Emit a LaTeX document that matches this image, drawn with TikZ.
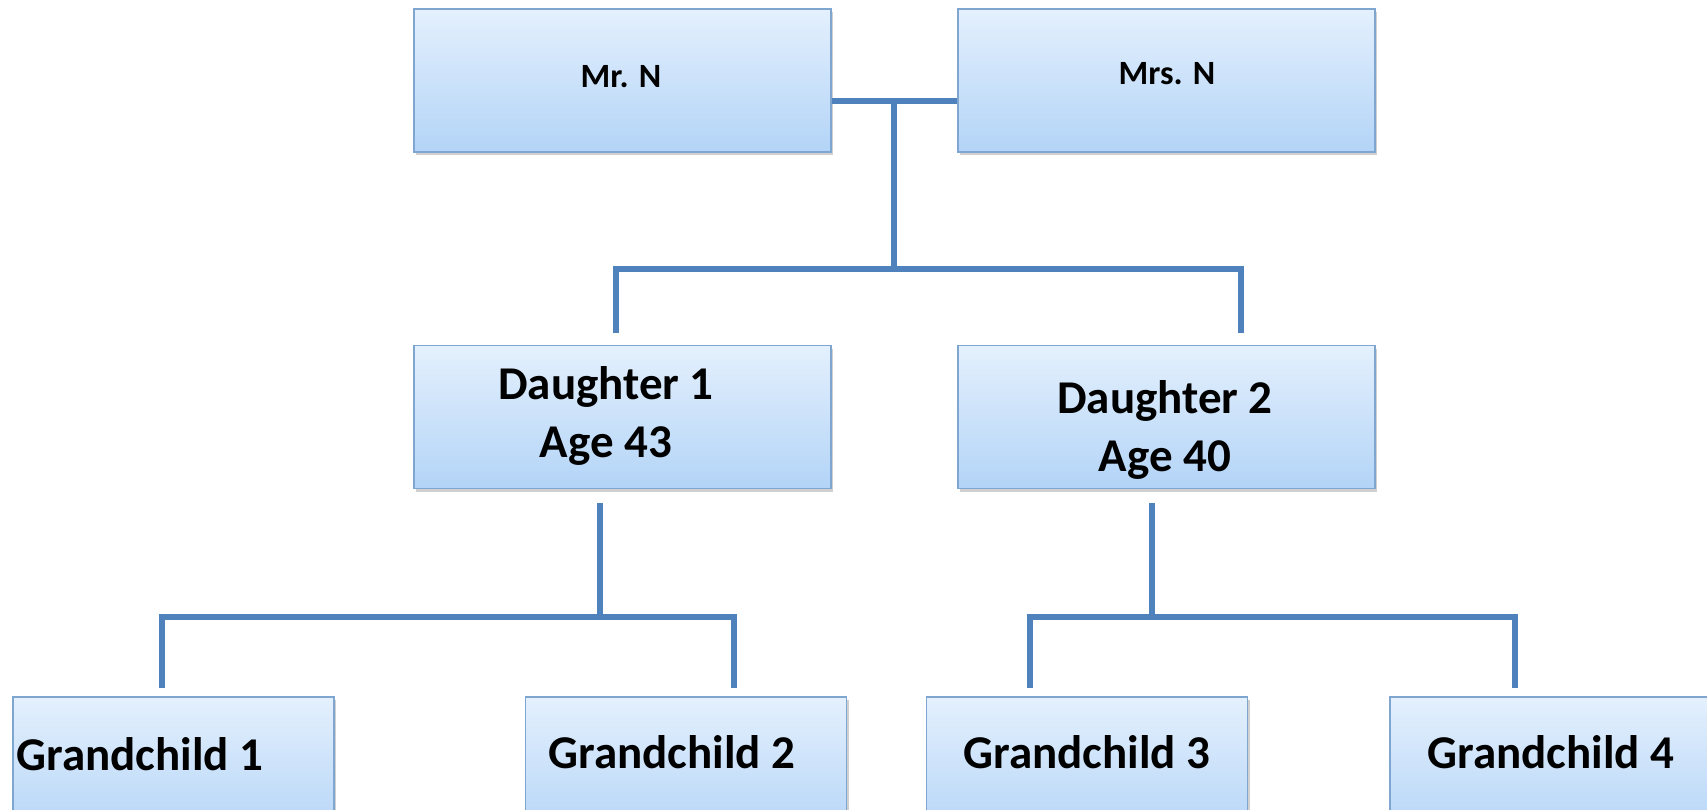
\documentclass[tikz,border=0pt]{standalone}
\usepackage{fontspec}
\setmainfont{Carlito}
\usetikzlibrary{shadows}
\definecolor{connc}{HTML}{4F81BD}
\definecolor{boxtop}{HTML}{E4F0FD}
\definecolor{boxbot}{HTML}{B3D4F7}
\definecolor{boxline}{HTML}{7FA6D1}
\begin{document}
\begin{tikzpicture}[x=1pt,y=-1pt,
  fambox/.style={draw=boxline, line width=1.5pt, top color=boxtop, bottom color=boxbot,
    drop shadow={shadow xshift=2pt, shadow yshift=-3pt, opacity=0.3, fill=black!60},
    inner sep=0pt, minimum height=143pt},
  bigw/.style={minimum width=417pt},
  smallw/.style={minimum width=321pt},
  biglbl/.style={font=\bfseries\fontsize{47}{58}\selectfont, align=center, inner sep=0pt},
  smalllbl/.style={font=\bfseries\fontsize{34}{40}\selectfont, align=center, inner sep=0pt},
  conn/.style={draw=connc, line width=6pt, line join=miter}]
\useasboundingbox (0,0) rectangle (1707,809);
\clip (0,0) rectangle (1707,809);
\fill[white] (0,0) rectangle (1707,809);
% boxes
\node[fambox,bigw] (mr) at (622.5,80.5) {};
\node[fambox,bigw] (mrs) at (1166.5,80.5) {};
\node[fambox,bigw] (d1) at (622.5,417) {};
\node[fambox,bigw] (d2) at (1166.5,417) {};
\node[fambox,smallw] (g1) at (173.5,768.5) {};
\node[fambox,smallw] (g2) at (686,768.5) {};
\node[fambox,smallw] (g3) at (1087,768.5) {};
\node[fambox,smallw] (g4) at (1550.5,768.5) {};
% labels
\node[smalllbl] (tmr) at (621,77) {Mr. N};
\node[smalllbl] (tmrs) at (1167,74) {Mrs. N};
\node[biglbl] (td1) at (606,416) {Daughter 1\\Age 43};
\node[biglbl] (td2) at (1165,430) {Daughter 2\\Age 40};
\node[biglbl] (tg1) at (140,754) {Grandchild 1};
\node[biglbl] (tg2) at (672,752) {Grandchild 2};
\node[biglbl] (tg3) at (1087,752) {Grandchild 3};
\node[biglbl] (tg4) at (1551,752) {Grandchild 4};
% junction coordinates
\coordinate (j0) at (894,101);
\coordinate (j1) at (894,269);
\coordinate (d1in) at (616,333);
\coordinate (d2in) at (1241,333);
\coordinate (d1out) at (600,503);
\coordinate (j2) at (600,617);
\coordinate (g1in) at (162,688);
\coordinate (g2in) at (734,688);
\coordinate (d2out) at (1152,503);
\coordinate (j3) at (1152,617);
\coordinate (g3in) at (1030,688);
\coordinate (g4in) at (1515,688);
% connectors
\draw[conn] (mr.east |- j0) -- (mrs.west |- j0);
\draw[conn] (j0) -- (j1);
\draw[conn] (d1in) |- (d2in |- j1) -- (d2in);
\draw[conn] (d1out) -- (j2);
\draw[conn] (g1in) |- (g2in |- j2) -- (g2in);
\draw[conn] (d2out) -- (j3);
\draw[conn] (g3in) |- (g4in |- j3) -- (g4in);
\end{tikzpicture}
\end{document}
